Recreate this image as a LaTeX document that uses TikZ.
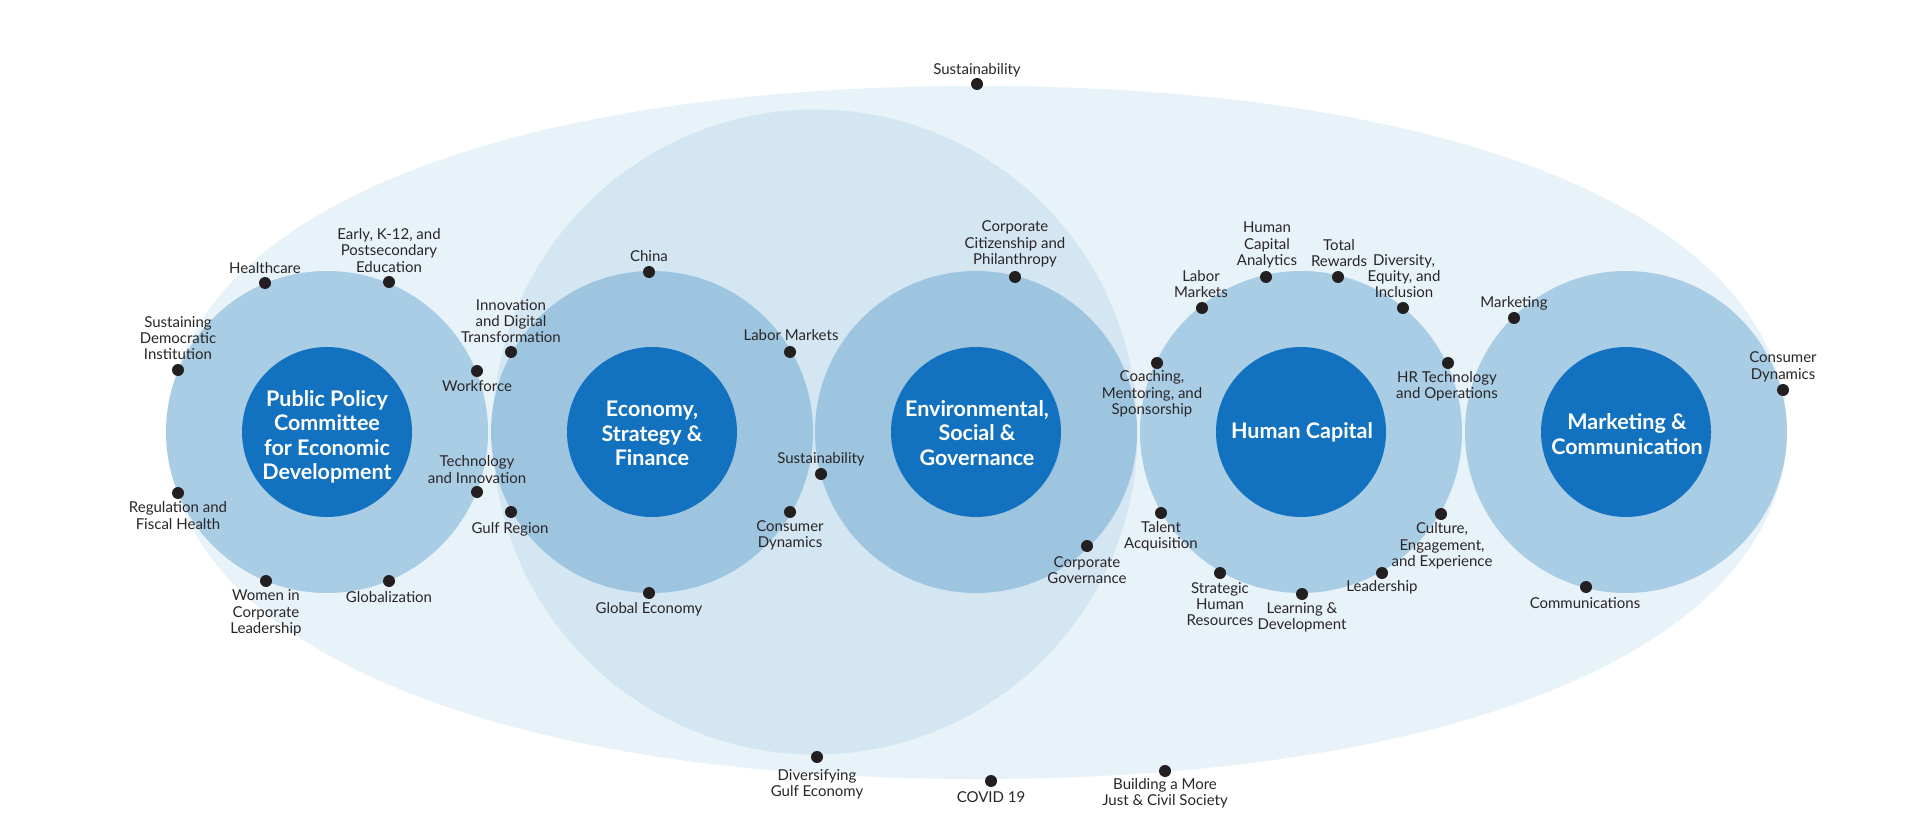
\documentclass[tikz,border=0pt]{standalone}
\usepackage{fontspec}
\setmainfont{Lato}
\newfontfamily\lblfont{Lato}
\definecolor{ellc}{HTML}{E8F2F9}
\definecolor{bigc}{HTML}{D4E6F2}
\definecolor{outA}{HTML}{A9CDE5}
\definecolor{outB}{HTML}{9EC5E0}
\definecolor{innc}{HTML}{1372BF}
\definecolor{dotc}{HTML}{231F20}
\definecolor{txt}{HTML}{2A2627}
\begin{document}
\begin{tikzpicture}[x=1pt,y=-1pt,
  lbl/.style={font=\lblfont\fontsize{15}{16.3}\selectfont, text=txt, align=center, inner sep=0pt},
  ttl/.style={font=\fontsize{21.5}{24.5}\selectfont\bfseries, text=white, align=center, inner sep=0pt},
  dot/.style={circle, fill=dotc, minimum size=12pt, inner sep=0pt},
  ringA/.style={circle, fill=outA, minimum size=322pt, inner sep=0pt},
  ringB/.style={circle, fill=outB, minimum size=322pt, inner sep=0pt},
  core/.style={circle, fill=innc, minimum size=170pt, inner sep=0pt},
  bigcircle/.style={circle, fill=bigc, minimum size=645pt, inner sep=0pt}]
\useasboundingbox (0,0) rectangle (1920,834);
\fill[white] (0,0) rectangle (1920,834);
% outer rounded ellipse
\fill[ellc] (168,432) .. controls (168,223) and (482,86) .. (977,86)
  .. controls (1472,86) and (1786,223) .. (1786,432)
  .. controls (1786,641) and (1472,779) .. (977,779)
  .. controls (482,779) and (168,641) .. (168,432) -- cycle;
% big sustainability circle
\node[bigcircle] (big) at (815,432) {};
% rings
\node[ringA] (ppO) at (327,432) {};
\node[ringB] (esO) at (652,432) {};
\node[ringB] (esgO) at (976,432) {};
\node[ringA] (hcO) at (1301,432) {};
\node[ringA] (mcO) at (1626,432) {};
% cores
\node[core] (pp) at (327,432) {};
\node[core] (es) at (652,432) {};
\node[core] (esg) at (976,432) {};
\node[core] (hc) at (1301,432) {};
\node[core] (mc) at (1626,432) {};
\node[ttl] (ppT) at (327,437) {Public Policy\\Committee\\for Economic\\Development};
\node[ttl] (esT) at (652,433.5) {Economy,\\Strategy \&\\Finance};
\node[ttl] (esgT) at (977,433) {Environmental,\\Social \&\\Governance};
\node[ttl] (hcT) at (1302,432) {Human Capital};
\node[ttl] (mcT) at (1627,434) {Marketing \&\\Communication};
% ---- Public Policy dots and labels
\node[dot] (d1) at (265,283) {};
\node[lbl] (l1) at (265,268) {Healthcare};
\node[dot] (d2) at (389,282) {};
\node[lbl] (l2) at (389,250.5) {Early, K-12, and\\Postsecondary\\Education};
\node[dot] (d3) at (178,370) {};
\node[lbl] (l3) at (178,338) {Sustaining\\Democratic\\Institution};
\node[dot] (d4) at (511,352) {};
\node[lbl] (l4) at (511,321) {Innovation\\and Digital\\Transformation};
\node[dot] (d5) at (477,371) {};
\node[lbl] (l5) at (477,386) {Workforce};
\node[dot] (d6) at (477,492) {};
\node[lbl] (l6) at (477,469.5) {Technology\\and Innovation};
\node[dot] (d7) at (511,512) {};
\node[lbl] (l7) at (510,529) {Gulf Region};
\node[dot] (d8) at (178,493) {};
\node[lbl] (l8) at (178,515.5) {Regulation and\\Fiscal Health};
\node[dot] (d9) at (266,581) {};
\node[lbl] (l9) at (266,613) {Women in\\Corporate\\Leadership};
\node[dot] (d10) at (389,581) {};
\node[lbl] (l10) at (389,597) {Globalization};
% ---- Economy dots and labels
\node[dot] (d11) at (649,272) {};
\node[lbl] (l11) at (649,256) {China};
\node[dot] (d12) at (790,352) {};
\node[lbl] (l12) at (791,335) {Labor Markets};
\node[dot] (d13) at (821,474) {};
\node[lbl] (l13) at (821,459) {Sustainability};
\node[dot] (d14) at (790,512) {};
\node[lbl] (l14) at (790,535.5) {Consumer\\Dynamics};
\node[dot] (d15) at (649,593) {};
\node[lbl] (l15) at (649,609) {Global Economy};
% ---- ESG dots and labels
\node[dot] (d16) at (1015,277) {};
\node[lbl] (l16) at (1015,244) {Corporate\\Citizenship and\\Philanthropy};
\node[dot] (d17) at (1087,546) {};
\node[lbl] (l17) at (1087,570) {Corporate\\Governance};
% ---- Human Capital dots and labels
\node[dot] (d18) at (1157,363) {};
\node[lbl] (l18) at (1152,394) {Coaching,\\Mentoring, and\\Sponsorship};
\node[dot] (d19) at (1161,513) {};
\node[lbl] (l19) at (1161,536) {Talent\\Acquisition};
\node[dot] (d20) at (1202,308) {};
\node[lbl] (l20) at (1201,284) {Labor\\Markets};
\node[dot] (d21) at (1266,277) {};
\node[lbl] (l21) at (1267,245) {Human\\Capital\\Analytics};
\node[dot] (d22) at (1338,277) {};
\node[lbl] (l22) at (1339,253) {Total\\Rewards};
\node[dot] (d23) at (1403,308) {};
\node[lbl] (l23) at (1404,276) {Diversity,\\Equity, and\\Inclusion};
\node[dot] (d24) at (1448,363) {};
\node[lbl] (l24) at (1447,386.5) {HR Technology\\and Operations};
\node[dot] (d25) at (1441,514) {};
\node[lbl] (l25) at (1442,546) {Culture,\\Engagement,\\and Experience};
\node[dot] (d26) at (1220,573) {};
\node[lbl] (l26) at (1220,604) {Strategic\\Human\\Resources};
\node[dot] (d27) at (1302,594) {};
\node[lbl] (l27) at (1302,617.5) {Learning \&\\Development};
\node[dot] (d28) at (1382,573) {};
\node[lbl] (l28) at (1382,587) {Leadership};
% ---- Marketing dots and labels
\node[dot] (d29) at (1514,318) {};
\node[lbl] (l29) at (1514,303) {Marketing};
\node[dot] (d30) at (1783,390) {};
\node[lbl] (l30) at (1783,367) {Consumer\\Dynamics};
\node[dot] (d31) at (1586,587) {};
\node[lbl] (l31) at (1585,603) {Communications};
% ---- outer dots and labels
\node[dot] (d32) at (977,84) {};
\node[lbl] (l32) at (977,70) {Sustainability};
\node[dot] (d33) at (817,757) {};
\node[lbl] (l33) at (817,784) {Diversifying\\Gulf Economy};
\node[dot] (d34) at (991,781) {};
\node[lbl] (l34) at (991,797) {COVID 19};
\node[dot] (d35) at (1165,771) {};
\node[lbl] (l35) at (1165,793) {Building a More\\Just \& Civil Society};
\end{tikzpicture}
\end{document}
